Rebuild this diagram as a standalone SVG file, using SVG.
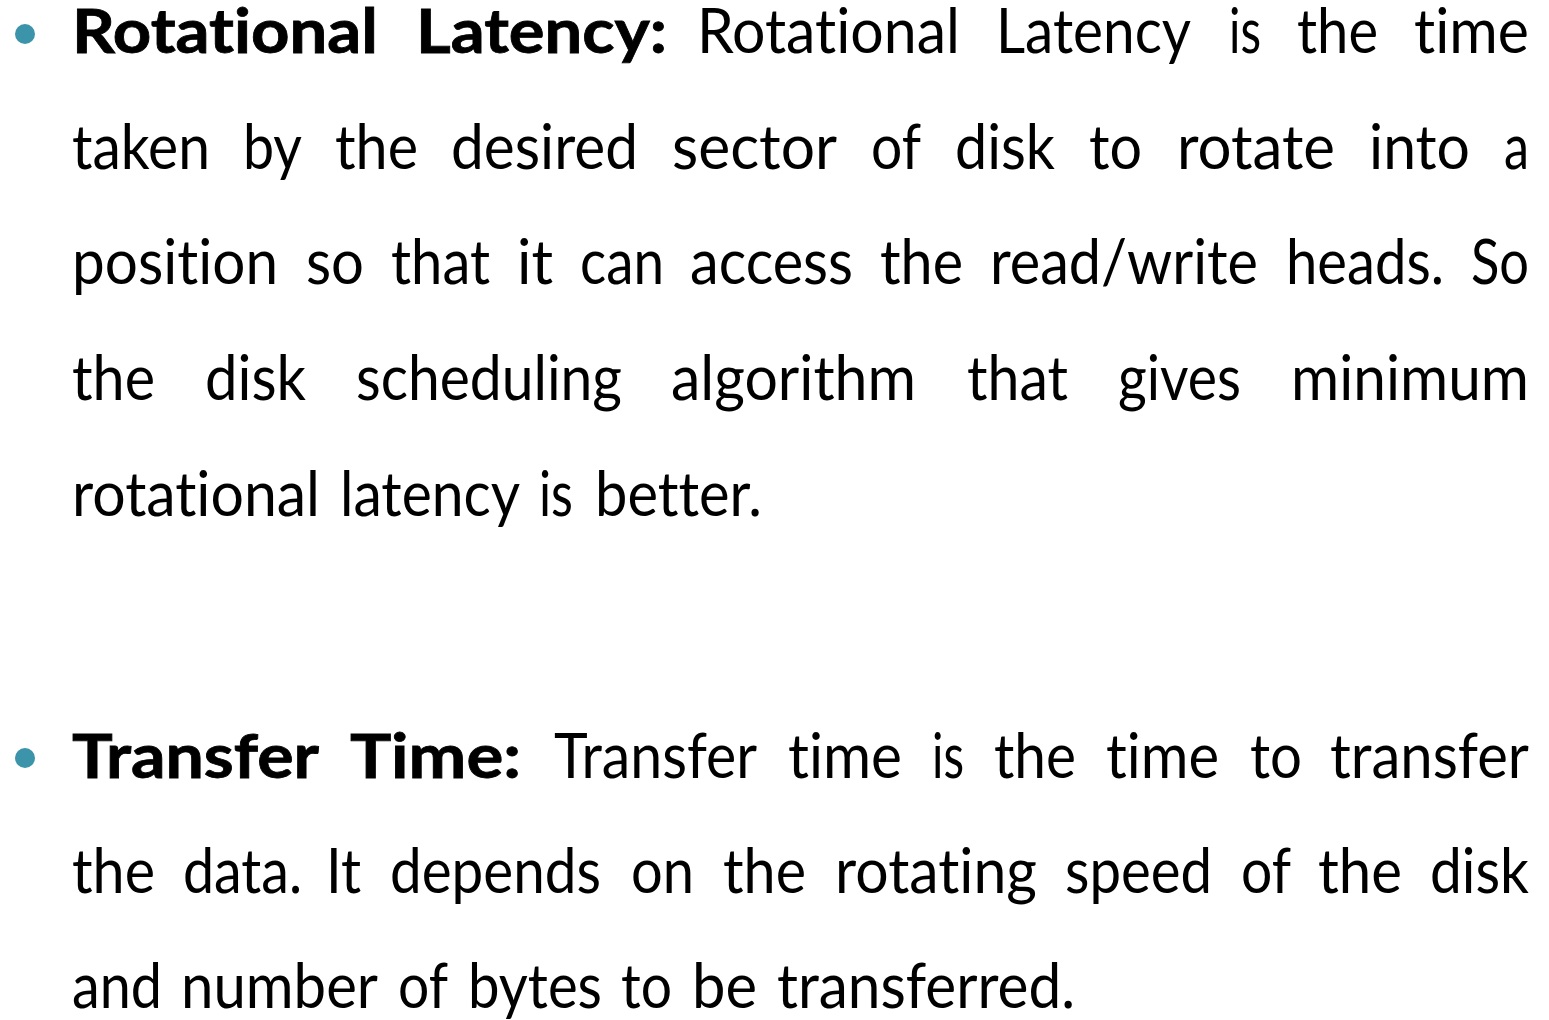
<svg xmlns="http://www.w3.org/2000/svg" width="1549" height="1020" viewBox="0 0 1549 1020">
  <style>
    .t { font-family: Lato, "Open Sans", "Liberation Sans", sans-serif; font-size: 61px; fill: #000; font-variant-ligatures: none; font-feature-settings: "liga" 0, "clig" 0; }
    .b { font-weight: bold; stroke: #000; stroke-width: 0.8px; }
    .dot { fill: #3b94aa; }
  </style>
  <rect width="1549" height="1020" fill="#ffffff"/>

  <!-- bullet 1: rotational latency -->
  <g id="bullet-rotational-latency">
    <circle class="dot" cx="25" cy="34" r="10"/>
    <!-- line 1 -->
    <text class="t b" x="72" y="53" textLength="306" lengthAdjust="spacingAndGlyphs">Rotational</text>
    <text class="t b" x="416" y="53" textLength="251" lengthAdjust="spacingAndGlyphs">Latency:</text>
    <text class="t" x="697" y="53" textLength="263" lengthAdjust="spacingAndGlyphs">Rotational</text>
    <text class="t" x="996" y="53" textLength="195" lengthAdjust="spacingAndGlyphs">Latency</text>
    <text class="t" x="1229" y="53" textLength="32" lengthAdjust="spacingAndGlyphs">is</text>
    <text class="t" x="1297" y="53" textLength="81" lengthAdjust="spacingAndGlyphs">the</text>
    <text class="t" x="1414" y="53" textLength="115" lengthAdjust="spacingAndGlyphs">time</text>
    <!-- line 2 -->
    <text class="t" x="72" y="169" textLength="138" lengthAdjust="spacingAndGlyphs">taken</text>
    <text class="t" x="243" y="169" textLength="59" lengthAdjust="spacingAndGlyphs">by</text>
    <text class="t" x="335" y="169" textLength="83" lengthAdjust="spacingAndGlyphs">the</text>
    <text class="t" x="451" y="169" textLength="187" lengthAdjust="spacingAndGlyphs">desired</text>
    <text class="t" x="672" y="169" textLength="165" lengthAdjust="spacingAndGlyphs">sector</text>
    <text class="t" x="871" y="169" textLength="50" lengthAdjust="spacingAndGlyphs">of</text>
    <text class="t" x="955" y="169" textLength="100" lengthAdjust="spacingAndGlyphs">disk</text>
    <text class="t" x="1089" y="169" textLength="53" lengthAdjust="spacingAndGlyphs">to</text>
    <text class="t" x="1177" y="169" textLength="158" lengthAdjust="spacingAndGlyphs">rotate</text>
    <text class="t" x="1369" y="169" textLength="101" lengthAdjust="spacingAndGlyphs">into</text>
    <text class="t" x="1504" y="169" textLength="25" lengthAdjust="spacingAndGlyphs">a</text>
    <!-- line 3 -->
    <text class="t" x="72" y="284" textLength="206" lengthAdjust="spacingAndGlyphs">position</text>
    <text class="t" x="306" y="284" textLength="58" lengthAdjust="spacingAndGlyphs">so</text>
    <text class="t" x="391" y="284" textLength="99" lengthAdjust="spacingAndGlyphs">that</text>
    <text class="t" x="517" y="284" textLength="36" lengthAdjust="spacingAndGlyphs">it</text>
    <text class="t" x="580" y="284" textLength="84" lengthAdjust="spacingAndGlyphs">can</text>
    <text class="t" x="690" y="284" textLength="163" lengthAdjust="spacingAndGlyphs">access</text>
    <text class="t" x="880" y="284" textLength="83" lengthAdjust="spacingAndGlyphs">the</text>
    <text class="t" x="990" y="284" textLength="268" lengthAdjust="spacingAndGlyphs">read/write</text>
    <text class="t" x="1286" y="284" textLength="158" lengthAdjust="spacingAndGlyphs">heads.</text>
    <text class="t" x="1471" y="284" textLength="58" lengthAdjust="spacingAndGlyphs">So</text>
    <!-- line 4 -->
    <text class="t" x="72" y="400" textLength="83" lengthAdjust="spacingAndGlyphs">the</text>
    <text class="t" x="205" y="400" textLength="101" lengthAdjust="spacingAndGlyphs">disk</text>
    <text class="t" x="356" y="400" textLength="266" lengthAdjust="spacingAndGlyphs">scheduling</text>
    <text class="t" x="671" y="400" textLength="245" lengthAdjust="spacingAndGlyphs">algorithm</text>
    <text class="t" x="967" y="400" textLength="101" lengthAdjust="spacingAndGlyphs">that</text>
    <text class="t" x="1118" y="400" textLength="123" lengthAdjust="spacingAndGlyphs">gives</text>
    <text class="t" x="1291" y="400" textLength="238" lengthAdjust="spacingAndGlyphs">minimum</text>
    <!-- line 5 -->
    <text class="t" x="72" y="516" textLength="248" lengthAdjust="spacingAndGlyphs">rotational</text>
    <text class="t" x="340" y="516" textLength="180" lengthAdjust="spacingAndGlyphs">latency</text>
    <text class="t" x="539" y="516" textLength="34" lengthAdjust="spacingAndGlyphs">is</text>
    <text class="t" x="595" y="516" textLength="167" lengthAdjust="spacingAndGlyphs">better.</text>
  </g>

  <!-- bullet 2: transfer time -->
  <g id="bullet-transfer-time">
    <circle class="dot" cx="25" cy="758" r="10"/>
    <!-- line 6 -->
    <text class="t b" x="72" y="778" textLength="247" lengthAdjust="spacingAndGlyphs">Transfer</text>
    <text class="t b" x="350" y="778" textLength="171" lengthAdjust="spacingAndGlyphs">Time:</text>
    <text class="t" x="554" y="778" textLength="203" lengthAdjust="spacingAndGlyphs">Transfer</text>
    <text class="t" x="788" y="778" textLength="114" lengthAdjust="spacingAndGlyphs">time</text>
    <text class="t" x="932" y="778" textLength="32" lengthAdjust="spacingAndGlyphs">is</text>
    <text class="t" x="994" y="778" textLength="82" lengthAdjust="spacingAndGlyphs">the</text>
    <text class="t" x="1106" y="778" textLength="113" lengthAdjust="spacingAndGlyphs">time</text>
    <text class="t" x="1250" y="778" textLength="52" lengthAdjust="spacingAndGlyphs">to</text>
    <text class="t" x="1330" y="778" textLength="199" lengthAdjust="spacingAndGlyphs">transfer</text>
    <!-- line 7 -->
    <text class="t" x="72" y="893" textLength="83" lengthAdjust="spacingAndGlyphs">the</text>
    <text class="t" x="183" y="893" textLength="119" lengthAdjust="spacingAndGlyphs">data.</text>
    <text class="t" x="326" y="893" textLength="35" lengthAdjust="spacingAndGlyphs">It</text>
    <text class="t" x="390" y="893" textLength="211" lengthAdjust="spacingAndGlyphs">depends</text>
    <text class="t" x="631" y="893" textLength="63" lengthAdjust="spacingAndGlyphs">on</text>
    <text class="t" x="723" y="893" textLength="83" lengthAdjust="spacingAndGlyphs">the</text>
    <text class="t" x="835" y="893" textLength="202" lengthAdjust="spacingAndGlyphs">rotating</text>
    <text class="t" x="1065" y="893" textLength="147" lengthAdjust="spacingAndGlyphs">speed</text>
    <text class="t" x="1241" y="893" textLength="50" lengthAdjust="spacingAndGlyphs">of</text>
    <text class="t" x="1318" y="893" textLength="84" lengthAdjust="spacingAndGlyphs">the</text>
    <text class="t" x="1430" y="893" textLength="99" lengthAdjust="spacingAndGlyphs">disk</text>
    <!-- line 8 -->
    <text class="t" x="72" y="1008" textLength="90" lengthAdjust="spacingAndGlyphs">and</text>
    <text class="t" x="181" y="1008" textLength="197" lengthAdjust="spacingAndGlyphs">number</text>
    <text class="t" x="398" y="1008" textLength="50" lengthAdjust="spacingAndGlyphs">of</text>
    <text class="t" x="468" y="1008" textLength="134" lengthAdjust="spacingAndGlyphs">bytes</text>
    <text class="t" x="621" y="1008" textLength="51" lengthAdjust="spacingAndGlyphs">to</text>
    <text class="t" x="692" y="1008" textLength="65" lengthAdjust="spacingAndGlyphs">be</text>
    <text class="t" x="777" y="1008" textLength="298" lengthAdjust="spacingAndGlyphs">transferred.</text>
  </g>
</svg>
